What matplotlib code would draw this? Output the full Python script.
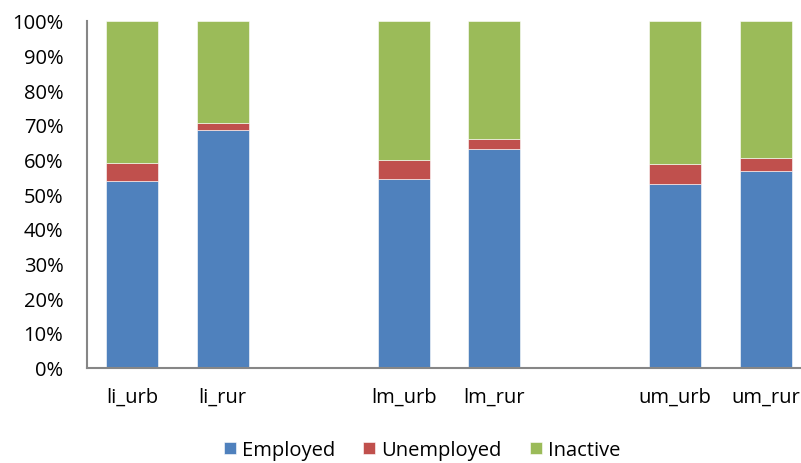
import matplotlib.pyplot as plt
import numpy as np

plt.rcParams['font.family'] = ['Open Sans', 'DejaVu Sans']

# chart data (percent of population)
groups = ["li_urb", "li_rur", "", "lm_urb", "lm_rur", "", "um_urb", "um_rur"]
employed = [53.8, 68.4, 0, 54.3, 62.9, 0, 52.9, 56.8]
unemployed = [5.1, 2.2, 0, 5.6, 3.1, 0, 5.7, 3.7]
inactive = [41.1, 29.4, 0, 40.1, 34.0, 0, 41.4, 39.5]
series_names = ["Employed", "Unemployed", "Inactive"]
colors = ["#4F81BD", "#C0504D", "#9BBB59"]

fig = plt.figure(figsize=(8.01, 4.64), dpi=100)
ax = fig.add_axes([87/801, (464-368.7)/464, (811-87)/801, 347/464])

x = np.arange(len(groups))
bottom = np.zeros(len(groups))
for vals, name, c in zip([employed, unemployed, inactive], series_names, colors):
    vals = np.array(vals)
    ax.bar(x, vals, 0.57, bottom=bottom, color=c, label=name,
           edgecolor="white", linewidth=0.4)
    bottom += vals

ax.set_xlim(-0.5, len(groups) - 0.5)
ax.set_ylim(0, 100)
ax.set_yticks(np.arange(0, 101, 10))
ax.set_yticklabels([f"{v}%" for v in range(0, 101, 10)], fontsize=14.5)
ax.set_xticks(x)
ax.set_xticklabels(groups, fontsize=14.5)
ax.tick_params(axis="both", length=0)
ax.tick_params(axis="y", pad=17)
ax.tick_params(axis="x", pad=14)

for s in ["top", "right"]:
    ax.spines[s].set_visible(False)
for s in ["left", "bottom"]:
    ax.spines[s].set_color("#868686")
    ax.spines[s].set_linewidth(1.5)

fig.legend(loc="center", bbox_to_anchor=(422/801, 1 - 451/464), ncol=3,
           frameon=False, fontsize=14.5, handlelength=0.6, handleheight=0.6,
           handletextpad=0.3, columnspacing=1.4)

fig.savefig("out.png", dpi=100)
